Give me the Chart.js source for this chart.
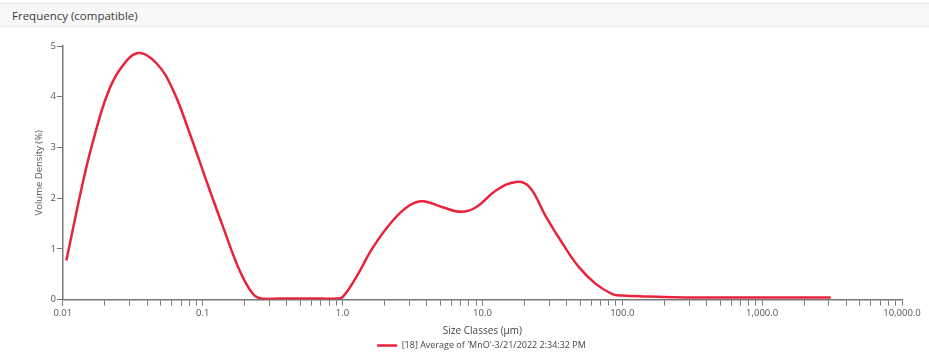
<!DOCTYPE html>
<html>
<head>
<meta charset="utf-8">
<script src="https://cdn.jsdelivr.net/npm/chart.js@4"></script>
<style>
  body { margin: 0; background: #fff; font-family: "Open Sans", "Noto Sans", sans-serif; }
  .header {
    position: absolute; left: 0; top: 3px; width: 929px; height: 24px;
    background: #f8f8f8; border-top: 1px solid #e6e6e6; border-bottom: 1px solid #ececec;
    font-size: 11.5px; color: #3a3a3a; line-height: 24px; padding-left: 12px; box-sizing: border-box;
  }
  .wrap { position: absolute; left: 0; top: 30px; width: 929px; height: 334px; }
</style>
</head>
<body>
<div class="header">Frequency (compatible)</div>
<div class="wrap"><canvas id="freqChart"></canvas></div>
<script>
// Size classes (µm)
const sizes = [0.0106, 0.014, 0.0165, 0.0205, 0.0255, 0.0345, 0.0467, 0.0614, 0.0807, 0.106,
  0.14, 0.184, 0.229, 0.263, 0.35, 0.5, 0.7, 0.9, 1.0, 1.25, 1.65, 2.29, 3.02, 3.75, 5.2, 7.05,
  9.0, 12.5, 17.4, 21.7, 28.5, 37.5, 49, 64.6, 85, 100, 150, 200, 400, 800, 1500, 3090];
// Volume density (%)
const density = [0.77, 2.35, 3.14, 4.0, 4.53, 4.86, 4.66, 4.13, 3.28, 2.35,
  1.43, 0.57, 0.11, 0.02, 0.02, 0.02, 0.02, 0.02, 0.05, 0.44, 1.03, 1.56, 1.86, 1.94, 1.82, 1.73,
  1.82, 2.15, 2.32, 2.22, 1.63, 1.10, 0.64, 0.31, 0.11, 0.08, 0.06, 0.05, 0.04, 0.04, 0.04, 0.04];
const yTicks = [0, 1, 2, 3, 4, 5];
const seriesLabel = "[18] Average of 'MnO'-3/21/2022 2:34:32 PM";

const red = '#e8243c';
const axisGray = '#777';

// every 1..9 x 10^n tick between 0.01 and 10000
const xTickValues = [];
for (let e = -2; e <= 4; e++) {
  for (let m = 1; m <= 9; m++) {
    if (e === 4 && m > 1) break;
    xTickValues.push(Number((m * Math.pow(10, e)).toPrecision(3)));
  }
}

function fmtMajor(v) {
  if (v === 0.01) return '0.01';
  if (v === 0.1) return '0.1';
  return v.toLocaleString('en-US', { minimumFractionDigits: 1, maximumFractionDigits: 1 });
}

new Chart(document.getElementById('freqChart'), {
  type: 'line',
  data: {
    datasets: [{
      label: seriesLabel,
      data: sizes.map((s, i) => ({ x: s, y: density[i] })),
      borderColor: red,
      backgroundColor: red,
      borderWidth: 2.5,
      pointRadius: 0,
      tension: 0.4,
      fill: false
    }]
  },
  options: {
    responsive: true,
    maintainAspectRatio: false,
    animation: false,
    layout: { padding: { left: 34, right: 0, top: 16, bottom: 4 } },
    plugins: {
      legend: {
        position: 'bottom',
        labels: {
          usePointStyle: true,
          pointStyle: 'line',
          pointStyleWidth: 20,
          color: '#444',
          font: { family: 'Open Sans', size: 9 },
          padding: 4
        }
      },
      tooltip: { enabled: false }
    },
    scales: {
      x: {
        type: 'logarithmic',
        min: 0.01,
        max: 10000,
        afterBuildTicks: (axis) => {
          axis.ticks = xTickValues.map(v => ({ value: v }));
        },
        afterFit: (axis) => {
          axis.paddingRight = 27;
        },
        ticks: {
          autoSkip: false,
          maxRotation: 0,
          color: '#555',
          font: { family: 'Open Sans', size: 9.5 },
          padding: 2,
          callback: (v) => {
            const lg = Math.log10(v);
            return Math.abs(lg - Math.round(lg)) < 1e-6 ? fmtMajor(v) : '';
          }
        },
        grid: { drawOnChartArea: false, color: axisGray, tickLength: 6, tickWidth: 1 },
        border: { color: axisGray, width: 1.5 },
        title: {
          display: true,
          text: 'Size Classes (µm)',
          color: '#444',
          font: { family: 'Open Sans', size: 10 },
          padding: { top: 4, bottom: 0 }
        }
      },
      y: {
        min: 0,
        max: 5,
        afterBuildTicks: (axis) => {
          axis.ticks = yTicks.map(v => ({ value: v }));
        },
        ticks: { color: '#555', font: { family: 'Open Sans', size: 9.5 }, padding: 1 },
        grid: { drawOnChartArea: false, color: axisGray, tickLength: 6 },
        border: { color: axisGray, width: 1.5 },
        title: {
          display: true,
          text: 'Volume Density (%)',
          color: '#555',
          font: { family: 'Open Sans', size: 9.5 },
          padding: { top: 0, bottom: 4 }
        }
      }
    }
  }
});
</script>
</body>
</html>
